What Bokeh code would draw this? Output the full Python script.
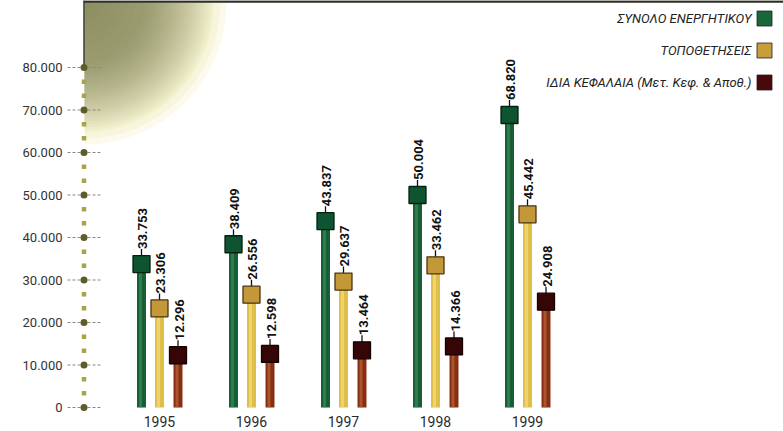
import math
from bokeh.plotting import figure
from bokeh.models import FixedTicker, Range1d
from bokeh.core.properties import value
from bokeh.embed import file_html
from bokeh.resources import INLINE

# ---- data ----
years = [1995, 1996, 1997, 1998, 1999]
year_labels = ["1995", "1996", "1997", "1998", "1999"]
series_names = ["ΣΥΝΟΛΟ ΕΝΕΡΓΗΤΙΚΟΥ", "ΤΟΠΟΘΕΤΗΣΕΙΣ", "ΙΔΙΑ ΚΕΦΑΛΑΙΑ (Μετ. Κεφ. & Αποθ.)"]
total_assets = [33753, 38409, 43837, 50004, 68820]
placements = [23306, 26556, 29637, 33462, 45442]
equity = [12296, 12598, 13464, 14366, 24908]
value_labels = [
    ["33.753", "38.409", "43.837", "50.004", "68.820"],
    ["23.306", "26.556", "29.637", "33.462", "45.442"],
    ["12.296", "12.598", "13.464", "14.366", "24.908"],
]
y_ticks = [0, 10000, 20000, 30000, 40000, 50000, 60000, 70000, 80000]
y_tick_labels = ["0", "10.000", "20.000", "30.000", "40.000", "50.000", "60.000", "70.000", "80.000"]

# ---- layout helpers (pixel <-> data) ----
PX_PER_YEAR = 92.0
PX_PER_UNIT = 0.00425
X0_PX = 159.0
Y0_PX = 407.0
W, H = 783, 431
FRAME_LEFT, FRAME_BOTTOM_PX = 66, 412


def X(px):
    return 1995 + (px - X0_PX) / PX_PER_YEAR


def Y(py):
    return (Y0_PX - py) / PX_PER_UNIT


FONT_STR = "Roboto"
FONT = value(FONT_STR)

p = figure(width=W, height=H, output_backend="svg", toolbar_location=None,
           x_range=Range1d(X(FRAME_LEFT), X(W)), y_range=Range1d(Y(FRAME_BOTTOM_PX), Y(0)),
           min_border_left=FRAME_LEFT, min_border_right=0, min_border_top=0,
           min_border_bottom=H - FRAME_BOTTOM_PX)
p.outline_line_color = None
p.grid.visible = False
p.background_fill_color = "white"
p.border_fill_color = "white"

# ---- top-left gradient (stacked translucent quarter discs) ----
cx, cy = X(84), Y(2)
for r, a in [(142, 0.25), (136, 0.3), (130, 0.35)]:
    p.wedge(x=cx, y=cy, radius=r, radius_units="screen", start_angle=-math.pi / 2, end_angle=0,
            fill_color="#eeedb8", fill_alpha=a, line_color=None)
radii = [128 - i * 3 for i in range(24)] + [50, 42, 34, 26, 18, 10]
for r in radii:
    p.wedge(x=cx, y=cy, radius=r, radius_units="screen", start_angle=-math.pi / 2, end_angle=0,
            fill_color="#7a7b46", fill_alpha=0.045, line_color=None)

# top frame line and vertical line down to 80.000
p.segment(x0=[X(83)], y0=[Y(1)], x1=[X(783)], y1=[Y(1)], line_color="#2e2e24", line_width=2.5)
p.segment(x0=[X(83.5)], y0=[Y(0)], x1=[X(83.5)], y1=[80000], line_color="#3a3a28", line_width=1.5)

# ---- y axis decoration: dashed tick lines + dotted axis ----
p.segment(x0=[X(67)] * len(y_ticks), y0=y_ticks, x1=[X(101)] * len(y_ticks), y1=y_ticks,
          line_color="#8a8a80", line_width=1, line_dash="3 2")
minor = [k * 10000 / 3 for k in range(0, 25) if k % 3 != 0]
p.scatter(x=[X(83.5)] * len(minor), y=minor, marker="square", size=4.5,
          fill_color="#a8a44a", line_color=None)
p.scatter(x=[X(83.5)] * len(y_ticks), y=y_ticks, marker="circle", size=7,
          fill_color="#5e5c28", line_color=None)

# ---- bars ----
offsets = [X(141) - X(159), 0.0, X(177.5) - X(159)]
series = [total_assets, placements, equity]
bar_col = ["#175f37", "#e0bf48", "#862f14"]
hi_col = ["#3f9663", "#f8e690", "#c7733c"]
mk_col = ["#0e5430", "#c39838", "#360606"]
mk_line = ["#06200f", "#4a3510", "#120000"]
bw = 9 / PX_PER_YEAR

for s, vals in enumerate(series):
    xs = [y + offsets[s] for y in years]
    p.vbar(x=xs, top=vals, bottom=0, width=bw, fill_color=bar_col[s], line_color=None)
    p.vbar(x=[x - 1 / PX_PER_YEAR for x in xs], top=vals, bottom=0, width=3 / PX_PER_YEAR,
           fill_color=hi_col[s], fill_alpha=0.55, line_color=None)
    # connector from marker top to label
    p.segment(x0=xs, y0=[v + 8 / PX_PER_UNIT for v in vals], x1=xs,
              y1=[v + 15 / PX_PER_UNIT for v in vals], line_color="#111111", line_width=1.3)
    p.scatter(x=xs, y=vals, marker="square", size=17, fill_color=mk_col[s],
              line_color=mk_line[s], line_width=1.3)
    p.text(x=[x + 1 / PX_PER_YEAR for x in xs], y=[v + 15 / PX_PER_UNIT for v in vals],
           text=value_labels[s], angle=math.pi / 2, text_align="left", text_baseline="middle",
           text_font=FONT, text_font_style="bold", text_font_size="13px", text_color="#111111")

# ---- legend (label right, square at right) ----
leg_rows = [18, 50, 82]
leg_sq = ["#17673b", "#c99c3c", "#470909"]
p.text(x=[X(751)] * 3, y=[Y(r) for r in leg_rows], text=series_names, text_align="right",
       text_baseline="middle", text_font=FONT, text_font_style="italic", text_font_size="13px",
       text_color="#222222")
p.scatter(x=[X(764)] * 3, y=[Y(r) for r in leg_rows], marker="square", size=15,
          fill_color=leg_sq, line_color="#222222", line_width=0.8)

# ---- axes ----
ya = p.yaxis[0]
ya.ticker = FixedTicker(ticks=y_ticks, minor_ticks=[])
ya.major_label_overrides = {t: l for t, l in zip(y_ticks, y_tick_labels)}
ya.axis_line_color = None
ya.major_tick_line_color = None
ya.minor_tick_line_color = None
ya.major_tick_in = 0
ya.major_tick_out = 0
ya.major_label_standoff = 4
ya.major_label_text_font = FONT_STR
ya.major_label_text_font_size = "13px"
ya.major_label_text_color = "#333333"

xa = p.xaxis[0]
xa.ticker = FixedTicker(ticks=years, minor_ticks=[])
xa.major_label_overrides = {y: l for y, l in zip(years, year_labels)}
xa.axis_line_color = None
xa.major_tick_line_color = None
xa.minor_tick_line_color = None
xa.major_tick_in = 0
xa.major_tick_out = 0
xa.major_label_standoff = 3
xa.major_label_text_font = FONT_STR
xa.major_label_text_font_size = "14px"
xa.major_label_text_color = "#2a2a2a"

open("out.html", "w").write(file_html(p, INLINE))
